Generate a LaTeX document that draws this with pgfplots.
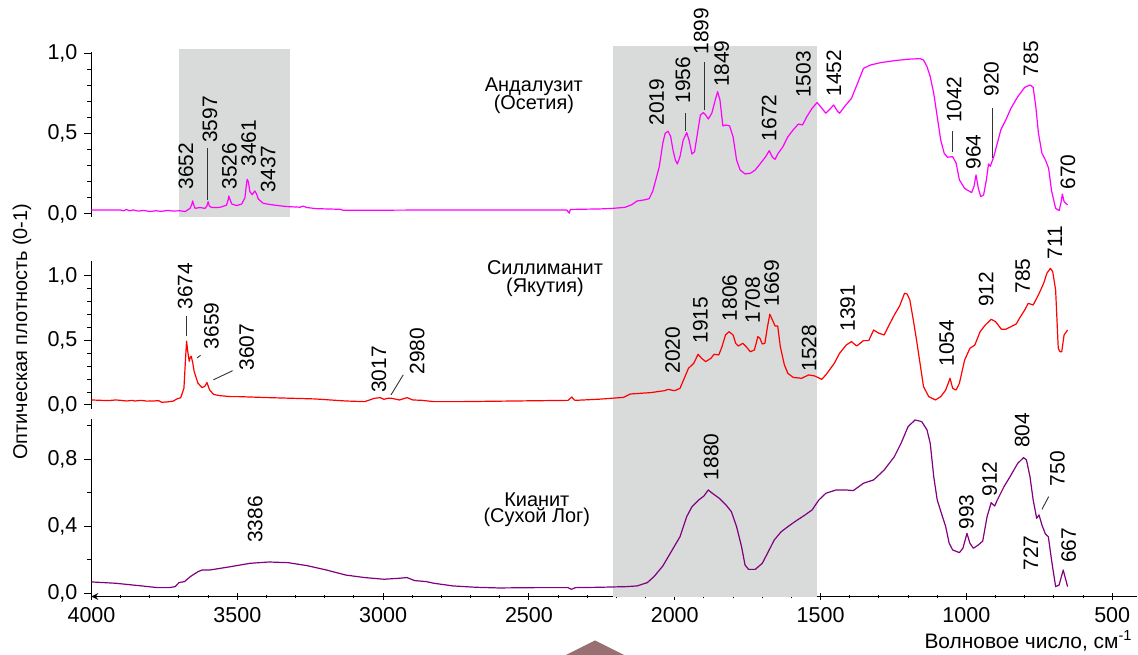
\documentclass[border=0pt]{standalone}
\usepackage{fontspec}
\setmainfont{Liberation Sans}
\usepackage{pgfplots}
\pgfplotsset{compat=1.18}

\definecolor{bandgray}{RGB}{217,218,218}
\definecolor{andal}{RGB}{255,0,255}
\definecolor{sill}{RGB}{255,0,0}
\definecolor{kyan}{RGB}{128,0,128}
\definecolor{pointer}{RGB}{152,112,116}

\pgfplotsset{
  panel/.style={
    scale only axis, width=522.75bp, xmin=415, xmax=4000, x dir=reverse,
    axis y line=left, axis line style={-, line width=0.5bp, black},
    tick align=outside, major tick length=3.5bp, minor tick length=2bp,
    tick style={line width=0.5bp, black},
    clip=false,
    /pgf/number format/assume math mode=true,
    tick label style={font=\fontsize{10.8}{12}\selectfont},
    y tick label style={/pgf/number format/fixed, /pgf/number format/fixed zerofill,
      /pgf/number format/precision=1, /pgf/number format/use comma},
    every axis plot/.append style={line width=0.6bp, line join=round},
  },
}
\tikzset{
  peak/.style={rotate=90, anchor=west, inner sep=0pt, font=\fontsize{10.5}{12}\selectfont},
  sample/.style={anchor=base, inner sep=0pt, font=\fontsize{10}{12}\selectfont},
  lead/.style={line width=0.45bp, black!80},
}

\begin{document}
\begin{tikzpicture}
\useasboundingbox (0,0) rectangle (569bp,327.5bp);

% ---------- Kyanite (Sukhoi Log) ----------
\begin{axis}[panel, at={(45.75bp,29.25bp)}, anchor=south west, height=88.86bp,
  ymin=-0.019, ymax=1.042, ytick={0,0.4,0.8}, minor ytick={0.2,0.6,1.0},
  axis x line=bottom, xtick={500,1000,...,4000}, minor x tick num=4,
  x tick label style={/pgf/number format/1000 sep={}}]
\fill[bandgray] (axis cs:2212,-0.019) rectangle (axis cs:1512,3.267);
\addplot[kyan] coordinates {
(4000,0.068) (3917,0.06) (3838,0.046) (3773,0.034) (3733,0.034) (3713,0.04)
(3700,0.064) (3681,0.07) (3661,0.10) (3635,0.129) (3621,0.139) (3595,0.139)
(3523,0.159) (3457,0.179) (3391,0.187) (3326,0.183) (3260,0.165) (3194,0.139)
(3128,0.109) (3063,0.094) (2997,0.084) (2944,0.09) (2918,0.094) (2892,0.076)
(2852,0.07) (2826,0.06) (2760,0.044) (2681,0.036) (2603,0.032) (2471,0.034)
(2366,0.034) (2355,0.024) (2340,0.034) (2259,0.036)
(2165,0.04) (2129,0.044) (2094,0.064) (2071,0.10) (2041,0.163) (2012,0.249)
(1982,0.338) (1959,0.458) (1941,0.517) (1918,0.557) (1900,0.581) (1885,0.617)
(1871,0.597) (1847,0.567) (1824,0.527) (1806,0.488) (1788,0.398) (1771,0.279)
(1759,0.169) (1747,0.143) (1724,0.143) (1700,0.179) (1682,0.239) (1659,0.318)
(1635,0.368) (1612,0.398) (1588,0.428) (1553,0.468) (1529,0.498) (1506,0.557)
(1482,0.597) (1447,0.617) (1412,0.617) (1388,0.613) (1353,0.657) (1318,0.677)
(1282,0.736) (1247,0.816) (1224,0.896) (1200,0.995) (1176,1.035) (1153,1.025)
(1135,0.975) (1124,0.896) (1112,0.697) (1100,0.557) (1082,0.458) (1071,0.398)
(1059,0.299) (1047,0.259) (1024,0.243) (1012,0.269) (998,0.358) (988,0.299)
(976,0.269) (959,0.289) (944,0.312) (929,0.458) (915,0.541) (903,0.521)
(894,0.557) (871,0.637) (847,0.706) (824,0.776) (804,0.81) (794,0.796)
(782,0.697) (771,0.557) (759,0.448) (751,0.468) (741,0.408) (729,0.354)
(719,0.338) (708,0.199) (694,0.04) (682,0.05) (668,0.139) (659,0.08) (653,0.04)
};
\node[peak] at (axis cs:3439,0.299) {3386};
\node[peak] at (axis cs:1875,0.673) {1880};
\node[peak] at (axis cs:1000,0.378) {993};
\node[peak] at (axis cs:920,0.577) {912};
\node[peak] at (axis cs:809,0.866) {804};
\node[peak] at (axis cs:688,0.637) {750};
\draw[lead] (axis cs:741,0.501) -- (axis cs:718,0.577);
\node[peak] at (axis cs:779,0.135) {727};
\node[peak] at (axis cs:649,0.179) {667};
\node[sample] at (axis cs:2473,0.521) {Кианит};
\node[sample] at (axis cs:2473,0.42) {(Сухой Лог)};
\end{axis}

% ---------- Sillimanite (Yakutia) ----------
\begin{axis}[panel, at={(45.75bp,123bp)}, anchor=south west, height=74bp,
  ymin=-0.031, ymax=1.116, ytick={0,0.5,1}, minor y tick num=4, hide x axis]
\addplot[sill] coordinates {
(4000,0.039) (3943,0.034) (3917,0.039) (3900,0.036) (3880,0.031) (3860,0.036)
(3851,0.031) (3830,0.036) (3810,0.03) (3786,0.031) (3770,0.034) (3759,0.021)
(3740,0.024) (3720,0.03) (3707,0.047) (3694,0.057) (3683,0.13) (3678,0.339)
(3674,0.495) (3670,0.417) (3665,0.339) (3661,0.37) (3658,0.378) (3653,0.33)
(3648,0.26) (3635,0.169) (3621,0.135) (3612,0.143) (3604,0.174) (3595,0.117)
(3582,0.083) (3562,0.073) (3523,0.065) (3497,0.065) (3391,0.057) (3234,0.047)
(3128,0.031) (3063,0.026) (3030,0.052) (3010,0.057) (2997,0.044) (2984,0.052)
(2971,0.052) (2944,0.039) (2918,0.057) (2898,0.039) (2866,0.036) (2826,0.026)
(2734,0.026) (2550,0.031) (2366,0.036) (2353,0.062) (2345,0.04) (2340,0.036)
(2259,0.045) (2176,0.059) (2153,0.085) (2082,0.096) (2035,0.111) (2023,0.121)
(2000,0.111) (1982,0.129) (1965,0.22) (1953,0.284) (1935,0.323) (1920,0.393)
(1908,0.362) (1894,0.336) (1876,0.362) (1865,0.393) (1849,0.388) (1838,0.452)
(1826,0.543) (1814,0.568) (1800,0.543) (1791,0.478) (1782,0.457) (1767,0.478)
(1755,0.452) (1741,0.413) (1727,0.426) (1715,0.53) (1708,0.517) (1700,0.473)
(1691,0.478) (1682,0.607) (1674,0.703) (1665,0.659) (1656,0.612) (1647,0.612)
(1638,0.452) (1624,0.31) (1612,0.245) (1594,0.214) (1565,0.207) (1541,0.233)
(1520,0.225) (1496,0.199) (1482,0.233) (1453,0.323) (1435,0.40) (1412,0.465)
(1394,0.491) (1376,0.457) (1353,0.499) (1335,0.499) (1318,0.581) (1300,0.556)
(1282,0.543) (1265,0.62) (1247,0.698) (1229,0.767) (1212,0.866) (1203,0.86)
(1194,0.814) (1182,0.659) (1171,0.504) (1159,0.323) (1147,0.142) (1129,0.065)
(1106,0.039) (1088,0.065) (1071,0.116) (1056,0.207) (1047,0.129) (1035,0.116)
(1024,0.168) (1006,0.349) (988,0.439) (971,0.465) (953,0.568) (935,0.62)
(915,0.664) (900,0.646) (880,0.587) (865,0.587) (847,0.607) (829,0.628)
(818,0.672) (800,0.736) (788,0.788) (771,0.775) (753,0.853) (735,0.943)
(724,1.021) (712,1.059) (704,1.034) (694,0.891) (685,0.439) (679,0.413)
(673,0.413) (665,0.543) (653,0.581)
};
\node[peak] at (axis cs:3679,0.736) {3674};
\draw[lead] (axis cs:3676,0.535) -- (axis cs:3676,0.69);
\node[peak] at (axis cs:3589,0.43) {3659};
\draw[lead] (axis cs:3638,0.365) -- (axis cs:3626,0.385);
\node[peak] at (axis cs:3468,0.266) {3607};
\draw[lead] (axis cs:3582,0.195) -- (axis cs:3516,0.266);
\node[peak] at (axis cs:3014,0.091) {3017};
\node[peak] at (axis cs:2883,0.234) {2980};
\draw[lead] (axis cs:2973,0.078) -- (axis cs:2931,0.234);
\node[peak] at (axis cs:2007,0.24) {2020};
\node[peak] at (axis cs:1912,0.473) {1915};
\node[peak] at (axis cs:1812,0.646) {1806};
\node[peak] at (axis cs:1733,0.628) {1708};
\node[peak] at (axis cs:1668,0.762) {1669};
\node[peak] at (axis cs:1539,0.258) {1528};
\node[peak] at (axis cs:1407,0.568) {1391};
\node[peak] at (axis cs:1068,0.297) {1054};
\node[peak] at (axis cs:932,0.757) {912};
\node[peak] at (axis cs:807,0.86) {785};
\node[peak] at (axis cs:696,1.124) {711};
\node[sample] at (axis cs:2445,1.008) {Силлиманит};
\node[sample] at (axis cs:2445,0.868) {(Якутия)};
\end{axis}

% ---------- Andalusite (Ossetia) ----------
\begin{axis}[panel, at={(45.75bp,219.15bp)}, anchor=south west, height=82.1bp,
  ymin=-0.017, ymax=1.005, ytick={0,0.5,1}, minor y tick num=4, hide x axis]
\fill[bandgray] (axis cs:3700,-0.017) rectangle (axis cs:3320,1.027);
\addplot[andal] coordinates {
(4000,0.025) (3950,0.025) (3902,0.025) (3890,0.02) (3880,0.028) (3870,0.02)
(3857,0.025) (3840,0.018) (3820,0.022) (3799,0.015) (3780,0.02) (3760,0.016)
(3740,0.022) (3720,0.018) (3697,0.02) (3679,0.015) (3662,0.035) (3656,0.06)
(3653,0.081) (3649,0.055) (3645,0.035) (3628,0.04) (3611,0.035) (3604,0.05)
(3600,0.077) (3596,0.05) (3588,0.04) (3560,0.041) (3537,0.055) (3531,0.09)
(3529,0.112) (3525,0.09) (3519,0.062) (3502,0.052) (3485,0.062) (3474,0.10)
(3469,0.18) (3466,0.216) (3462,0.2) (3457,0.139) (3449,0.12) (3440,0.143)
(3434,0.125) (3428,0.093) (3411,0.066) (3377,0.056) (3331,0.046) (3285,0.042)
(3274,0.049) (3262,0.04) (3228,0.033) (3148,0.029) (3137,0.023) (3057,0.023)
(2800,0.025) (2370,0.025) (2362,0.005) (2358,0.028) (2300,0.03) (2259,0.031)
(2212,0.035) (2171,0.041) (2147,0.058) (2129,0.081) (2106,0.087) (2088,0.095)
(2076,0.139) (2065,0.212) (2053,0.295) (2041,0.44) (2033,0.502) (2023,0.515)
(2014,0.482) (2006,0.398) (1998,0.336) (1991,0.311) (1982,0.357) (1971,0.46)
(1959,0.506) (1951,0.46) (1941,0.373) (1932,0.388) (1924,0.481) (1912,0.616)
(1902,0.631) (1894,0.616) (1885,0.591) (1873,0.627) (1861,0.71) (1853,0.761)
(1845,0.71) (1835,0.548) (1824,0.554) (1812,0.548) (1800,0.48) (1788,0.336)
(1776,0.274) (1759,0.249) (1741,0.253) (1724,0.274) (1706,0.315) (1688,0.357)
(1676,0.394) (1665,0.353) (1656,0.34) (1647,0.373) (1629,0.419) (1612,0.481)
(1594,0.523) (1576,0.56) (1562,0.554) (1547,0.606) (1529,0.658) (1512,0.693)
(1500,0.668) (1482,0.627) (1471,0.647) (1455,0.678) (1441,0.637) (1435,0.627)
(1418,0.668) (1394,0.72) (1371,0.823) (1353,0.906) (1329,0.927) (1294,0.942)
(1247,0.954) (1200,0.963) (1159,0.967) (1147,0.958) (1135,0.917) (1124,0.855)
(1112,0.751) (1100,0.606) (1088,0.46) (1076,0.377) (1065,0.353) (1047,0.357)
(1035,0.315) (1024,0.212) (1006,0.159) (982,0.133) (974,0.17) (967,0.243)
(959,0.16) (951,0.108) (941,0.118) (932,0.207) (924,0.311) (918,0.297)
(906,0.357) (894,0.44) (882,0.523) (865,0.585) (847,0.658) (824,0.73)
(800,0.788) (782,0.803) (771,0.788) (762,0.668) (753,0.504) (741,0.378)
(729,0.336) (718,0.284) (708,0.145) (694,0.035) (682,0.021) (676,0.066)
(671,0.124) (665,0.077) (653,0.056)
};
\node[peak] at (axis cs:3676,0.15) {3652};
\node[peak] at (axis cs:3594,0.44) {3597};
\draw[lead] (axis cs:3602,0.087) -- (axis cs:3602,0.41);
\node[peak] at (axis cs:3527,0.149) {3526};
\node[peak] at (axis cs:3461,0.294) {3461};
\node[peak] at (axis cs:3394,0.133) {3437};
\node[peak] at (axis cs:2062,0.548) {2019};
\node[peak] at (axis cs:1972,0.685) {1956};
\draw[lead] (axis cs:1962,0.519) -- (axis cs:1962,0.627);
\node[peak] at (axis cs:1909,0.99) {1899};
\draw[lead] (axis cs:1898,0.647) -- (axis cs:1898,0.948);
\node[peak] at (axis cs:1839,0.788) {1849};
\node[peak] at (axis cs:1676,0.45) {1672};
\node[peak] at (axis cs:1559,0.72) {1503};
\node[peak] at (axis cs:1454,0.73) {1452};
\node[peak] at (axis cs:1042,0.564) {1042};
\draw[lead] (axis cs:1049,0.388) -- (axis cs:1049,0.516);
\node[peak] at (axis cs:976,0.274) {964};
\node[peak] at (axis cs:914,0.73) {920};
\draw[lead] (axis cs:912,0.346) -- (axis cs:912,0.657);
\node[peak] at (axis cs:779,0.855) {785};
\node[peak] at (axis cs:652,0.149) {670};
\node[sample] at (axis cs:2483,0.762) {Андалузит};
\node[sample] at (axis cs:2483,0.653) {(Осетия)};
\end{axis}

% axis titles
\node[rotate=90, inner sep=0pt, font=\fontsize{10}{12}\selectfont] at (11bp,161.6bp)
  {Оптическая плотность (0-1)};
\node[anchor=base east, inner sep=0pt, font=\fontsize{10.5}{12}\selectfont] at (566.5bp,3.5bp)
  {Волновое число, см\textsuperscript{-1}};

% pointer marker below the axis
\fill[pointer] (281bp,-1bp) -- (297.5bp,7.3bp) -- (314bp,-1bp) -- cycle;
\end{tikzpicture}
\end{document}
